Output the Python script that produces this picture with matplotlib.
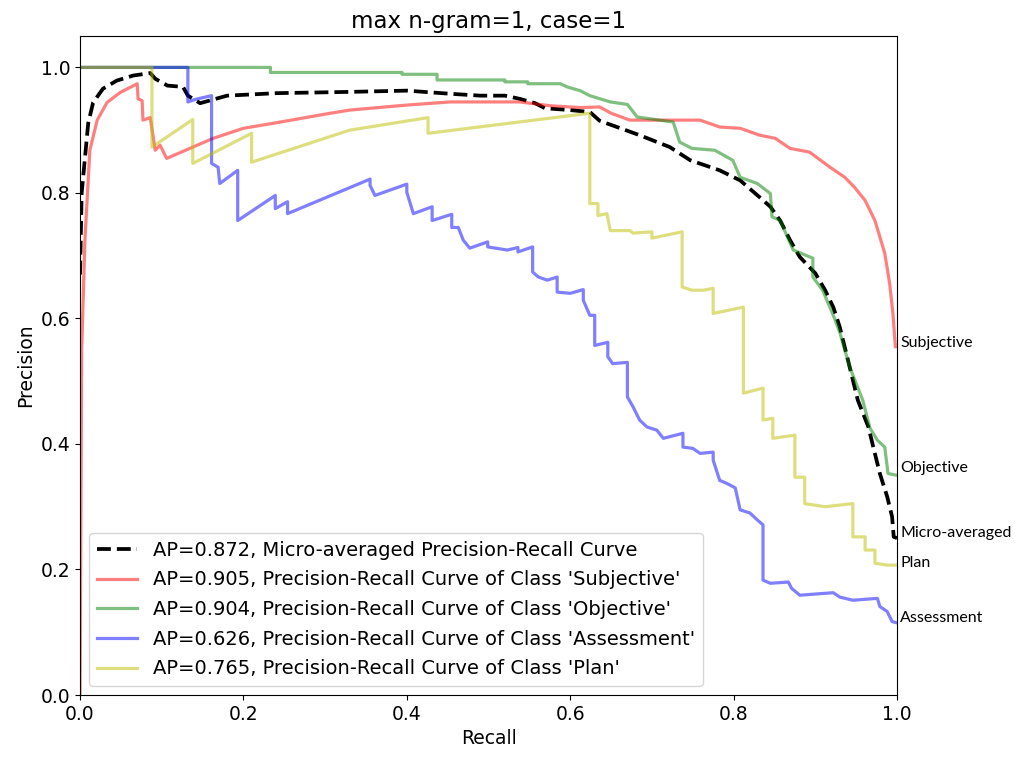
import matplotlib
matplotlib.use("Agg")
import matplotlib.pyplot as plt

# ---------------- data ----------------
micro_recall = [0.0, 0.002, 0.010, 0.016, 0.028, 0.045, 0.065, 0.086, 0.092, 0.107, 0.126,
                0.132, 0.147, 0.180, 0.241, 0.330, 0.400, 0.453, 0.490, 0.520, 0.538, 0.557,
                0.569, 0.600, 0.624, 0.636, 0.685, 0.722, 0.747, 0.783, 0.808, 0.832, 0.845,
                0.857, 0.869, 0.881, 0.900, 0.912, 0.922, 0.930, 0.942, 0.952, 0.965, 0.971,
                0.979, 0.988, 0.994, 0.996, 1.0]
micro_precision = [0.67, 0.80, 0.911, 0.944, 0.966, 0.979, 0.987, 0.991, 0.982, 0.971, 0.969,
                   0.955, 0.943, 0.955, 0.959, 0.961, 0.963, 0.958, 0.955, 0.955, 0.950, 0.943,
                   0.935, 0.932, 0.929, 0.915, 0.892, 0.873, 0.852, 0.836, 0.820, 0.793, 0.778,
                   0.756, 0.725, 0.698, 0.672, 0.645, 0.618, 0.586, 0.523, 0.470, 0.427, 0.395,
                   0.353, 0.316, 0.284, 0.252, 0.250]

subj_recall = [0.0, 0.002, 0.006, 0.012, 0.021, 0.033, 0.049, 0.070, 0.071, 0.076, 0.077,
               0.086, 0.092, 0.098, 0.106, 0.138, 0.163, 0.200, 0.241, 0.302, 0.330, 0.400,
               0.453, 0.538, 0.575, 0.612, 0.636, 0.650, 0.673, 0.726, 0.759, 0.783, 0.808,
               0.832, 0.851, 0.869, 0.893, 0.918, 0.936, 0.948, 0.961, 0.973, 0.985, 0.991,
               0.995, 0.998]
subj_precision = [0.0, 0.55, 0.725, 0.868, 0.916, 0.944, 0.960, 0.974, 0.950, 0.947, 0.916,
                  0.920, 0.868, 0.876, 0.855, 0.873, 0.887, 0.903, 0.912, 0.926, 0.932, 0.940,
                  0.945, 0.945, 0.939, 0.936, 0.937, 0.927, 0.916, 0.916, 0.916, 0.905, 0.903,
                  0.892, 0.887, 0.871, 0.865, 0.841, 0.825, 0.809, 0.788, 0.756, 0.704, 0.656,
                  0.608, 0.555]

obj_recall = [0.0, 0.233, 0.233, 0.394, 0.394, 0.437, 0.437, 0.520, 0.520, 0.548, 0.548,
              0.588, 0.596, 0.612, 0.624, 0.649, 0.670, 0.682, 0.726, 0.734, 0.749, 0.777,
              0.799, 0.808, 0.829, 0.845, 0.847, 0.857, 0.873, 0.897, 0.897, 0.909, 0.922,
              0.930, 0.942, 0.958, 0.967, 0.976, 0.985, 0.989, 1.0]
obj_precision = [1.0, 1.0, 0.992, 0.992, 0.989, 0.989, 0.980, 0.980, 0.977, 0.977, 0.974,
                 0.974, 0.969, 0.963, 0.955, 0.945, 0.941, 0.921, 0.913, 0.881, 0.871, 0.868,
                 0.852, 0.825, 0.815, 0.799, 0.762, 0.756, 0.709, 0.696, 0.666, 0.645, 0.605,
                 0.578, 0.523, 0.470, 0.425, 0.406, 0.395, 0.353, 0.350]

assess_recall = [0.0, 0.132, 0.132, 0.141, 0.161, 0.161, 0.169, 0.171, 0.193, 0.193, 0.239,
                 0.239, 0.254, 0.254, 0.355, 0.355, 0.361, 0.400, 0.400, 0.408, 0.431, 0.431,
                 0.455, 0.455, 0.463, 0.469, 0.477, 0.499, 0.499, 0.523, 0.536, 0.536, 0.554,
                 0.554, 0.561, 0.572, 0.584, 0.584, 0.600, 0.616, 0.616, 0.624, 0.630, 0.630,
                 0.646, 0.646, 0.652, 0.670, 0.670, 0.677, 0.685, 0.694, 0.706, 0.714, 0.738,
                 0.738, 0.750, 0.759, 0.775, 0.775, 0.783, 0.792, 0.802, 0.808, 0.820, 0.829,
                 0.836, 0.836, 0.845, 0.867, 0.871, 0.881, 0.922, 0.930, 0.946, 0.976, 0.979,
                 0.988, 0.994, 1.0]
assess_precision = [1.0, 1.0, 0.945, 0.949, 0.955, 0.847, 0.841, 0.815, 0.836, 0.756, 0.796,
                    0.775, 0.786, 0.767, 0.822, 0.812, 0.796, 0.814, 0.801, 0.767, 0.778, 0.756,
                    0.766, 0.745, 0.745, 0.725, 0.712, 0.722, 0.714, 0.709, 0.713, 0.706, 0.714,
                    0.674, 0.666, 0.661, 0.666, 0.642, 0.640, 0.646, 0.629, 0.605, 0.605, 0.557,
                    0.562, 0.539, 0.528, 0.530, 0.475, 0.459, 0.438, 0.427, 0.422, 0.409, 0.417,
                    0.395, 0.393, 0.385, 0.387, 0.374, 0.342, 0.337, 0.330, 0.295, 0.290, 0.279,
                    0.271, 0.183, 0.178, 0.180, 0.170, 0.159, 0.163, 0.156, 0.151, 0.154, 0.141,
                    0.133, 0.117, 0.115]

plan_recall = [0.0, 0.088, 0.088, 0.138, 0.138, 0.210, 0.210, 0.330, 0.426, 0.426, 0.624,
               0.624, 0.634, 0.634, 0.645, 0.649, 0.673, 0.677, 0.700, 0.700, 0.737, 0.737,
               0.749, 0.763, 0.775, 0.775, 0.812, 0.812, 0.836, 0.836, 0.848, 0.848, 0.875,
               0.875, 0.887, 0.887, 0.912, 0.946, 0.946, 0.961, 0.961, 0.973, 0.973, 0.988, 1.0]
plan_precision = [1.0, 1.0, 0.873, 0.917, 0.847, 0.895, 0.849, 0.900, 0.920, 0.895, 0.927,
                  0.783, 0.783, 0.764, 0.767, 0.740, 0.740, 0.736, 0.738, 0.728, 0.738, 0.650,
                  0.645, 0.645, 0.648, 0.608, 0.618, 0.481, 0.489, 0.438, 0.441, 0.409, 0.414,
                  0.347, 0.347, 0.305, 0.300, 0.305, 0.252, 0.252, 0.231, 0.231, 0.210, 0.207, 0.207]

ap_values = {"micro": 0.872, "Subjective": 0.905, "Objective": 0.904,
             "Assessment": 0.626, "Plan": 0.765}
end_labels = ["Subjective", "Objective", "Micro-averaged", "Plan", "Assessment"]
end_label_y = [0.561, 0.361, 0.258, 0.210, 0.123]

# ---------------- figure ----------------
fig = plt.figure(figsize=(10.17, 7.57), dpi=100)
ax = fig.add_axes([0.0787, 0.0819, 0.8033, 0.8705])
fs = 13.5

ax.plot(micro_recall, micro_precision, 'k--', lw=2.7,
        label="AP={:.3f}, Micro-averaged Precision-Recall Curve".format(ap_values["micro"]))
ax.plot(subj_recall, subj_precision, color='r', alpha=0.5, lw=2.3,
        label="AP={:.3f}, Precision-Recall Curve of Class 'Subjective'".format(ap_values["Subjective"]))
ax.plot(obj_recall, obj_precision, color='g', alpha=0.5, lw=2.3,
        label="AP={:.3f}, Precision-Recall Curve of Class 'Objective'".format(ap_values["Objective"]))
ax.plot(assess_recall, assess_precision, color='b', alpha=0.5, lw=2.3,
        label="AP={:.3f}, Precision-Recall Curve of Class 'Assessment'".format(ap_values["Assessment"]))
ax.plot(plan_recall, plan_precision, color='y', alpha=0.5, lw=2.3,
        label="AP={:.3f}, Precision-Recall Curve of Class 'Plan'".format(ap_values["Plan"]))

ax.set_xlim(0.0, 1.0)
ax.set_ylim(0.0, 1.05)
ax.set_xticks([0.0, 0.2, 0.4, 0.6, 0.8, 1.0])
ax.set_yticks([0.0, 0.2, 0.4, 0.6, 0.8, 1.0])
ax.tick_params(labelsize=fs)
ax.set_xlabel("Recall", fontsize=fs)
ax.set_ylabel("Precision", fontsize=fs)
ax.set_title("max n-gram=1, case=1", fontsize=16.5)
ax.legend(loc="lower left", fontsize=14.0, borderaxespad=0.45, labelspacing=0.55,
          handlelength=2.1)

for lab, yv in zip(end_labels, end_label_y):
    ax.text(1.004, yv, lab, fontsize=11.5, family=["Lato", "DejaVu Sans"],
            va="center", ha="left", clip_on=False)

fig.savefig("out.png", dpi=100)
